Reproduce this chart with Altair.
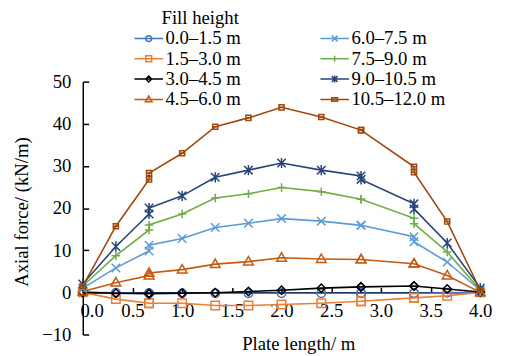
import altair as alt
import pandas as pd

# ---------------- data ----------------
series = ["0.0–1.5 m", "1.5–3.0 m", "3.0–4.5 m", "4.5–6.0 m",
          "6.0–7.5 m", "7.5–9.0 m", "9.0–10.5 m", "10.5–12.0 m"]
colors = ["#4472C4", "#ED7D31", "#000000", "#C55A11",
          "#5B9BD5", "#70AD47", "#264478", "#9E480E"]

plate_x = [0.0, 0.333, 0.667, 0.667, 1.0, 1.333, 1.667, 2.0, 2.4, 2.8, 2.8,
           3.333, 3.333, 3.667, 4.0]

s_00_15 = [0.0, -0.1, -0.2, -0.2, -0.2, -0.2, -0.2, -0.2, -0.2, -0.2, -0.2, -0.2, -0.2, -0.1, 0.0]
s_15_30 = [0.0, -1.6, -2.6, -2.6, -2.6, -3.1, -3.1, -2.9, -2.6, -2.1, -2.1, -1.3, -1.3, -0.8, 0.0]
s_30_45 = [0.0, -0.2, -0.3, -0.3, -0.2, -0.1, 0.2, 0.5, 1.0, 1.3, 1.3, 1.5, 1.5, 0.8, 0.1]
s_45_60 = [0.2, 2.3, 4.0, 4.6, 5.4, 6.7, 7.3, 8.2, 7.9, 7.8, 7.8, 6.8, 6.8, 4.0, 0.0]
s_60_75 = [1.0, 5.8, 9.8, 11.2, 12.8, 15.4, 16.4, 17.5, 16.9, 15.9, 15.9, 13.2, 12.0, 7.2, 0.5]
s_75_90 = [1.5, 8.7, 14.8, 16.0, 18.6, 22.4, 23.4, 24.9, 23.9, 22.1, 22.1, 17.6, 16.3, 9.6, 0.5]
s_90_105 = [2.0, 10.9, 18.6, 20.0, 22.9, 27.3, 29.0, 30.7, 29.0, 27.6, 26.8, 21.0, 19.8, 11.7, 1.0]
s_105_120 = [1.5, 15.7, 26.8, 28.3, 33.0, 39.3, 41.4, 43.9, 41.6, 38.5, 38.5, 29.8, 28.5, 16.8, 0.5]

values = [s_00_15, s_15_30, s_30_45, s_45_60, s_60_75, s_75_90, s_90_105, s_105_120]

x_ticks = [0.0, 0.5, 1.0, 1.5, 2.0, 2.5, 3.0, 3.5, 4.0]
y_ticks = [-10, 0, 10, 20, 30, 40, 50]

rows = []
for s, vals in zip(series, values):
    for i, (xv, yv) in enumerate(zip(plate_x, vals)):
        rows.append({"series": s, "x": xv, "y": yv, "idx": i})
df = pd.DataFrame(rows)

# ---------------- marker paths (pixel units, size=4) ----------------
def circle(cx, r):
    return f"M{cx-r},0A{r},{r} 0 1,0 {cx+r},0A{r},{r} 0 1,0 {cx-r},0"

def square(cx, r):
    return f"M{cx-r},{-r}H{cx+r}V{r}H{cx-r}Z"

def diamond(cx, r):
    return f"M{cx},{-r}L{cx+r},0L{cx},{r}L{cx-r},0Z"

def triangle(cx, r):
    return f"M{cx},{-r*1.2}L{cx+r*1.15},{r*0.8}H{cx-r*1.15}Z"

def xmark(cx, r):
    return f"M{cx-r},{-r}L{cx+r},{r}M{cx-r},{r}L{cx+r},{-r}"

def plus(cx, r):
    return f"M{cx-r},0H{cx+r}M{cx},{-r}V{r}"

def star(cx, r):
    return xmark(cx, r) + f"M{cx},{-r*1.2}V{r*1.2}"

def block(cx, r):
    h = r * 0.6
    return f"M{cx-r},{-h}H{cx+r}V{h}H{cx-r}ZM{cx-r},0H{cx+r}"

makers = [circle, square, diamond, triangle, xmark, plus, star, block]

plot_paths = [f(0, 4.3) for f in makers]
plot_paths[7] = "M-2.6,-2.6H2.6V2.6H-2.6ZM-2.6,0H2.6"
leg_line = "M-37,0H-8"
leg_paths = [leg_line + f(-22.5, 3) for f in makers]

FONT = "Liberation Serif"
FS = 19

x_axis = alt.Axis(
    orient="top", offset=-214.17, values=x_ticks, format=".1f",
    tickSize=5, tickWidth=1.5, tickColor="black",
    domainColor="black", domainWidth=1.5, grid=False,
    labelFont=FONT, labelFontSize=FS, labelColor="black",
    labelBaseline="top", labelPadding=-15, labelFlush=False, labelOverlap=False,
    labelOffset={"condition": {"test": "datum.value === 0", "value": 9}, "value": 0},
    title="Plate length/ m", titleFont=FONT, titleFontSize=FS, titleFontWeight="normal",
    titleColor="black", titleX=219, titleY=58, titleAlign="center",
    titleBaseline="alphabetic", titleAngle=0,
)
y_axis = alt.Axis(
    orient="right", offset=-404, values=y_ticks,
    tickSize=6, tickWidth=1.5, tickColor="black",
    domainColor="black", domainWidth=1.5, grid=False,
    labelFont=FONT, labelFontSize=FS, labelColor="black",
    labelAlign="right", labelPadding=-18, labelOverlap=False,
    title="Axial force/ (kN/m)", titleFont=FONT, titleFontSize=FS,
    titleFontWeight="normal", titleColor="black",
    titleAngle=270, titleX=-62, titleY=132, titleAlign="center",
    titleBaseline="middle",
)

xs = alt.X("x:Q", scale=alt.Scale(domain=[0, 4], nice=False, zero=False), axis=x_axis)
ys = alt.Y("y:Q", scale=alt.Scale(domain=[-10, 50], nice=False, zero=False), axis=y_axis)

legend = alt.Legend(
    title="Fill height", orient="none", legendX=80, legendY=-73.5,
    columns=2, columnPadding=77, rowPadding=0.7,
    labelFont=FONT, labelFontSize=FS, labelColor="black", labelOffset={"expr": "-15"},
    titleFont=FONT, titleFontSize=FS, titleFontWeight="normal", titleColor="black",
    titlePadding=1, symbolSize=4, symbolStrokeWidth=1.5,
)

base = alt.Chart(df)

layers = []
for i, s in enumerate(series):
    sub = base.transform_filter(alt.datum.series == s)
    layers.append(
        sub.mark_line(strokeWidth=1.6, color=colors[i]).encode(
            x=xs, y=ys, order=alt.Order("idx:Q"))
    )
    layers.append(
        sub.mark_point(shape=plot_paths[i], size=4, filled=False, strokeWidth=1.5,
                       opacity=1, color=colors[i]).encode(x=xs, y=ys)
    )

legend_layer = base.transform_filter("false").mark_point(
    size=4, filled=False, strokeWidth=1.5, opacity=1
).encode(
    x=xs, y=ys,
    color=alt.Color("series:N", scale=alt.Scale(domain=series, range=colors), legend=legend),
    shape=alt.Shape("series:N", scale=alt.Scale(domain=series, range=leg_paths), legend=legend),
)

chart = alt.layer(*layers, legend_layer).properties(
    width=404, height=257,
    autosize=alt.AutoSizeParams(type="none"),
    padding={"left": 76, "top": 72, "right": 18, "bottom": 19},
    background="white",
).configure_view(stroke=None)

chart.save("out.html", embed_options={"renderer": "svg", "actions": False})
